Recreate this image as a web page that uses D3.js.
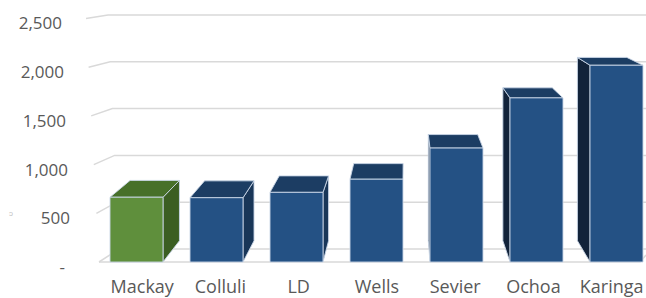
<!DOCTYPE html>
<html>
<head>
<meta charset="utf-8">
<script src="https://cdn.jsdelivr.net/npm/d3@7/dist/d3.min.js"></script>
<style>
  html, body { margin: 0; padding: 0; background: #fff; }
  svg { display: block; }
  text { font-family: "Open Sans", "Liberation Sans", sans-serif; fill: #595959; }
</style>
</head>
<body>
<div id="chart"></div>
<script>
var categories = ['Mackay', 'Colluli', 'LD', 'Wells', 'Sevier', 'Ochoa', 'Karinga'];
var values = [665, 660, 715, 850, 1170, 1685, 2020];
var y_ticks = [0, 500, 1000, 1500, 2000, 2500];
var y_tick_labels = ['-', '500', '1,000', '1,500', '2,000', '2,500'];

var chart_width = 646;
var chart_height = 298;

// perspective: vanishing point and depth of the bars
var vp = [405, -50];
var depth = 0.068;

function project(x, y, k) {
  return [x + k * depth * (vp[0] - x), y + k * depth * (vp[1] - y)];
}

var svg = d3.select('#chart')
  .append('svg')
  .attr('width', chart_width)
  .attr('height', chart_height);

// scales
var x_scale = d3.scaleBand()
  .domain(categories)
  .range([96.5, 656.5])
  .paddingInner(0.3375)
  .paddingOuter(0.16875);

var y_scale = d3.scaleLinear().domain([0, 2500]).range([262, 18.5]);
var y_back = d3.scaleLinear().domain([0, 2500]).range([249, 15]);
var x_front = d3.scaleLinear().domain([0, 2500]).range([99, 86]);
var x_back = d3.scaleLinear().domain([0, 2500]).range([119, 108]);
var label_x = d3.scaleLinear().domain([0, 2500]).range([72, 62]);

// gridlines: short slanted part on the side wall, then the back wall
var grid = svg.append('g')
  .attr('stroke', '#d9d9d9')
  .attr('stroke-width', 1.5)
  .attr('fill', 'none');

grid.selectAll('path.grid')
  .data(y_ticks)
  .enter()
  .append('path')
  .attr('class', 'grid')
  .attr('d', function(d) {
    return 'M' + x_front(d) + ',' + y_scale(d) +
      'L' + x_back(d) + ',' + y_back(d) +
      'L' + chart_width + ',' + y_back(d);
  });

// floor front edge
grid.append('path')
  .attr('d', 'M' + x_front(0) + ',' + y_scale(0) + 'L640,' + y_scale(0) + 'L646,255');

// y labels
svg.selectAll('text.ytick')
  .data(y_ticks)
  .enter()
  .append('text')
  .attr('class', 'ytick')
  .attr('x', function(d) { return d === 0 ? 65 : label_x(d); })
  .attr('y', function(d) { return y_scale(d) + 5; })
  .attr('dy', '0.35em')
  .attr('text-anchor', 'end')
  .style('font-size', '17px')
  .text(function(d, i) { return y_tick_labels[i]; });

// small cut-off mark at the left edge
svg.append('text')
  .attr('x', 9)
  .attr('y', 216)
  .style('font-size', '8px')
  .style('fill', '#c4c4c4')
  .text('\u0254');

// bars
var bars = categories.map(function(c, i) {
  return { name: c, value: values[i], green: i === 0 };
});

function poly(points) {
  return 'M' + points.map(function(p) { return p[0] + ',' + p[1]; }).join('L') + 'Z';
}

var bar_g = svg.selectAll('g.bar')
  .data(bars)
  .enter()
  .append('g')
  .attr('class', 'bar')
  .attr('stroke', '#c9d6e6')
  .attr('stroke-width', 0.9)
  .attr('stroke-linejoin', 'round');

bar_g.each(function(d) {
  var g = d3.select(this);
  var x0 = x_scale(d.name);
  var x1 = x0 + x_scale.bandwidth();
  var yt = y_scale(d.value);
  var yb = y_scale(0);

  var front_col = d.green ? '#5f8f3c' : '#245184';
  var top_col = d.green ? '#477029' : '#1c3d63';
  var side_col;

  var tl = project(x0, yt, 1);
  var tr = project(x1, yt, 1);

  // side faces
  if (tr[0] > x1 + 0.5) {
    side_col = d.green ? '#3b5e22' : '#193658';
    g.append('path')
      .attr('d', poly([[x1, yt], tr, project(x1, yb, 1), [x1, yb]]))
      .attr('fill', side_col);
  }
  if (tl[0] < x0 - 0.5) {
    side_col = d.green ? '#2e4a1b' : '#12233a';
    g.append('path')
      .attr('d', poly([[x0, yt], tl, project(x0, yb, 1), [x0, yb]]))
      .attr('fill', side_col);
  }

  // top face
  g.append('path')
    .attr('d', poly([[x0, yt], [x1, yt], tr, tl]))
    .attr('fill', top_col);

  // front face
  g.append('rect')
    .attr('x', x0)
    .attr('y', yt)
    .attr('width', x1 - x0)
    .attr('height', yb - yt)
    .attr('fill', front_col);
});

// x labels, pulled slightly toward the centre like the reference
svg.selectAll('text.xlabel')
  .data(categories)
  .enter()
  .append('text')
  .attr('class', 'xlabel')
  .attr('x', function(d) {
    var c = x_scale(d) + x_scale.bandwidth() / 2;
    return c + 0.022 * (vp[0] - 8 - c);
  })
  .attr('y', 293)
  .attr('text-anchor', 'middle')
  .style('font-size', '18px')
  .text(function(d) { return d; });
</script>
</body>
</html>
